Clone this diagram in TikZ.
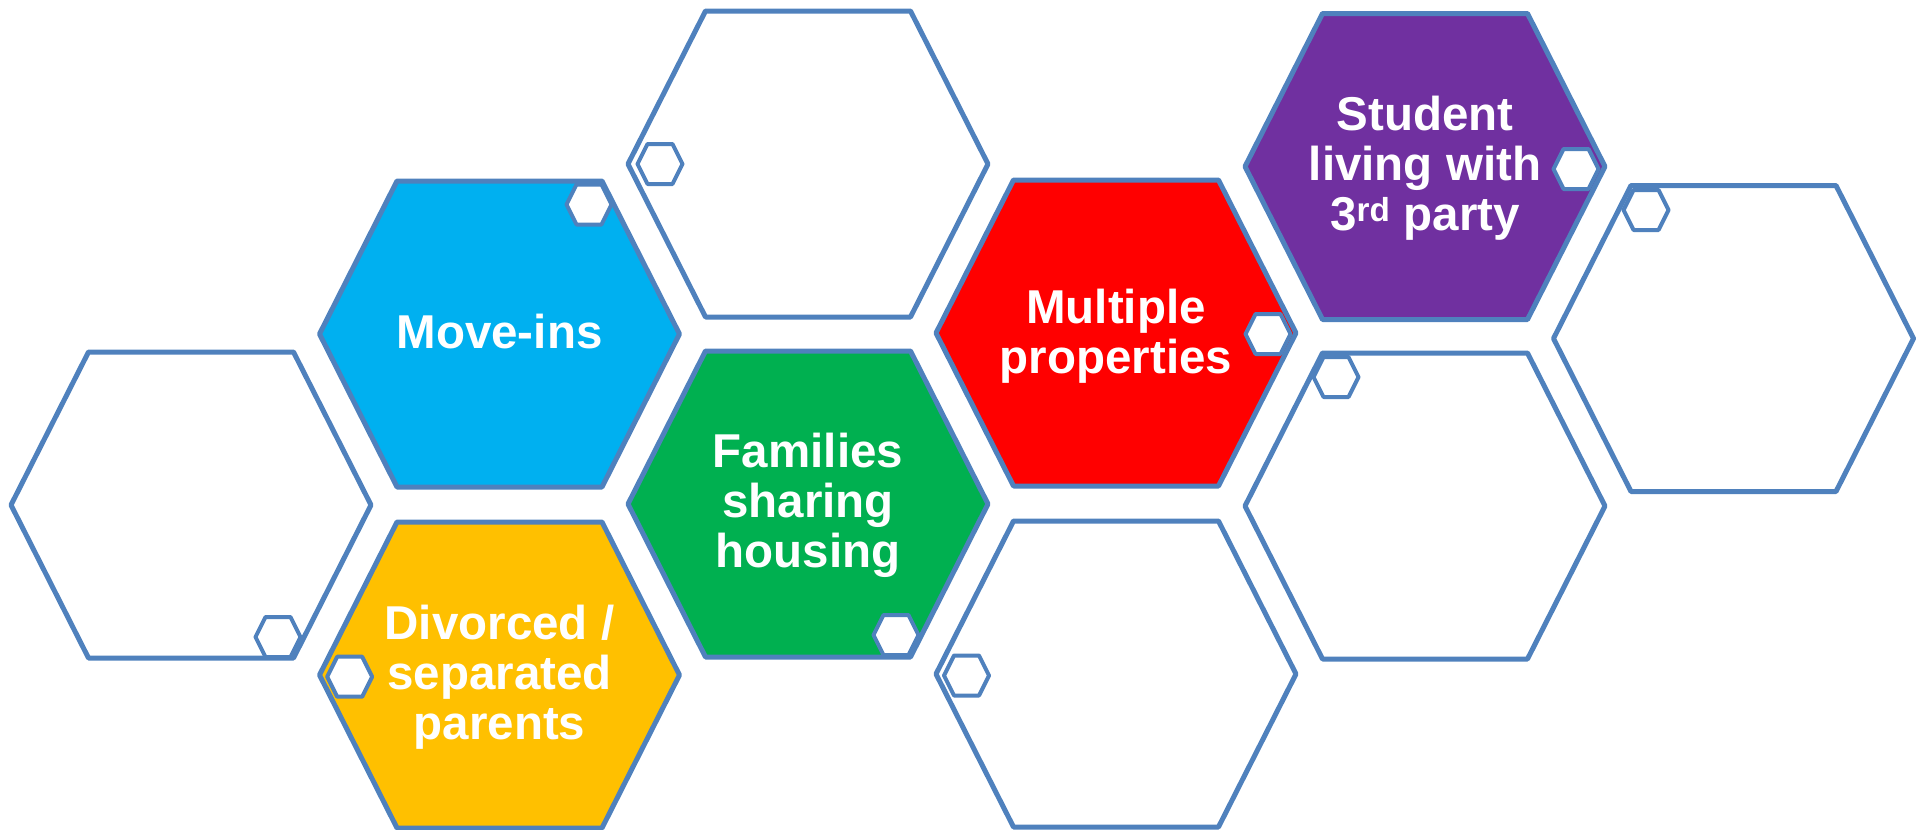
\documentclass[tikz,border=0pt]{standalone}
\usepackage{fontspec}
\setmainfont{Liberation Sans}
\definecolor{edge}{HTML}{4F81BD}
\definecolor{hexblue}{HTML}{00B0F0}
\definecolor{hexyellow}{HTML}{FFC000}
\definecolor{hexgreen}{HTML}{00B050}
\definecolor{hexred}{HTML}{FF0000}
\definecolor{hexpurple}{HTML}{7030A0}
\begin{document}
\begin{tikzpicture}[x=1pt,y=-1pt,
  bighex/.pic={\path[pic actions] (-180,0) -- (-102.5,-153) -- (102.5,-153) -- (180,0) -- (102.5,153) -- (-102.5,153) -- cycle;},
  smallhex/.pic={\path[pic actions] (-22.5,0) -- (-12.5,-20) -- (12.5,-20) -- (22.5,0) -- (12.5,20) -- (-12.5,20) -- cycle;},
  big/.style={draw=edge, line width=5pt, line join=round},
  small/.style={draw=edge, fill=white, line width=4pt, line join=round},
  lbl/.style={text=white, font=\bfseries\fontsize{47.5}{50}\selectfont, align=center, inner sep=0pt}]
\useasboundingbox (0,0) rectangle (1923,830);
% big hexagons
\pic[big, fill=white] at (191,505) {bighex};
\pic[big, fill=hexblue] at (499.5,334) {bighex};
\pic[big, fill=hexyellow] at (499.5,675) {bighex};
\pic[big, fill=white] at (808,164) {bighex};
\pic[big, fill=hexgreen] at (808,504) {bighex};
\pic[big, fill=hexred] at (1116,333) {bighex};
\pic[big, fill=white] at (1116,674) {bighex};
\pic[big, fill=hexpurple] at (1425,166.5) {bighex};
\pic[big, fill=white] at (1425,506) {bighex};
\pic[big, fill=white] at (1733.5,338.5) {bighex};
% small hexagons
\pic[small] at (278,637) {smallhex};
\pic[small] at (589,204.5) {smallhex};
\pic[small] at (349.7,676.7) {smallhex};
\pic[small] at (660,164) {smallhex};
\pic[small] at (896,635) {smallhex};
\pic[small] at (966.5,675.5) {smallhex};
\pic[small] at (1268,334) {smallhex};
\pic[small] at (1336,377) {smallhex};
\pic[small] at (1576,169) {smallhex};
\pic[small] at (1646,210) {smallhex};
% labels
\node[lbl] (movein) at (499.5,332) {Move-ins};
\node[lbl] (divorced) at (499.5,677) {Divorced /\\separated\\parents};
\node[lbl] (families) at (808,505) {Families\\sharing\\housing};
\node[lbl] (multiple) at (1116,336) {Multiple\\properties};
\node[lbl] (student) at (1425,168) {Student\\living with\\3\textsuperscript{rd} party};
\end{tikzpicture}
\end{document}
